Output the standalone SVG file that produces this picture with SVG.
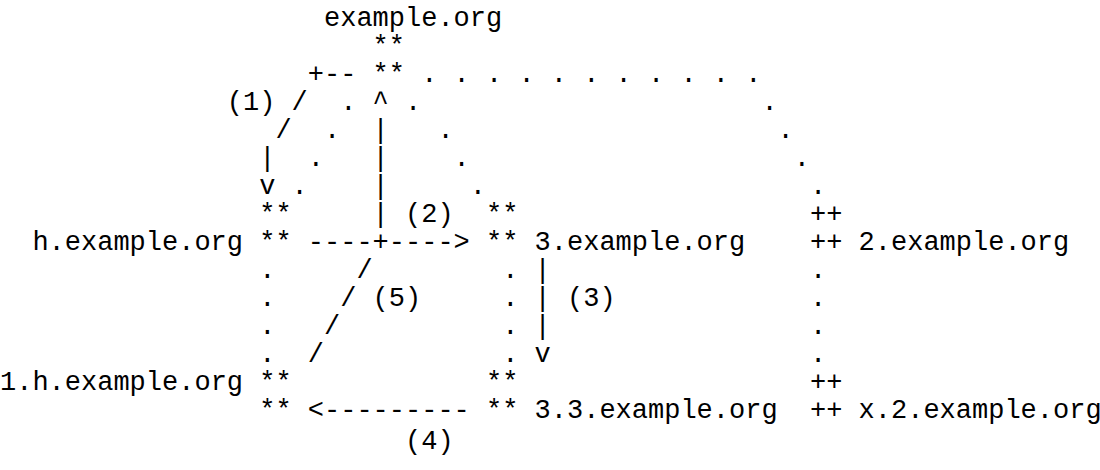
<svg xmlns="http://www.w3.org/2000/svg" width="1100" height="470" viewBox="0 0 1100 470">
<style>
text{font-family:"Liberation Mono","Courier New",monospace;font-size:27px;fill:#000;white-space:pre}
</style>
<rect width="1100" height="470" fill="#fff"/>
<g id="connectors">
  <g id="c1">
    <text x="307.8" y="82">+--</text>
    <text x="226.8" y="110">(1)</text>
    <text x="291.6" y="110">/</text>
    <text x="275.4" y="138">/</text>
    <text x="259.2" y="166">|</text>
    <text x="259.2" y="194">v</text>
  </g>
  <g id="c2">
    <text x="372.6" y="110">^</text>
    <text x="372.6" y="138">|</text>
    <text x="372.6" y="166">|</text>
    <text x="372.6" y="194">|</text>
    <text x="372.6" y="222">|</text>
    <text x="405" y="222">(2)</text>
    <text x="307.8" y="250" xml:space="preserve">----+----&gt;</text>
  </g>
  <g id="dots-example-h">
    <text x="340.2" y="110">.</text>
    <text x="324" y="138">.</text>
    <text x="307.8" y="166">.</text>
    <text x="291.6" y="194">.</text>
  </g>
  <g id="dots-example-3">
    <text x="405" y="110">.</text>
    <text x="437.4" y="138">.</text>
    <text x="453.6" y="166">.</text>
    <text x="469.8" y="194">.</text>
  </g>
  <g id="dots-example-2">
    <text x="421.2" y="82" xml:space="preserve">. . . . . . . . . . .</text>
    <text x="761.4" y="110">.</text>
    <text x="777.6" y="138">.</text>
    <text x="793.8" y="166">.</text>
    <text x="810" y="194">.</text>
  </g>
  <g id="dots-h-1h">
    <text x="259.2" y="278">.</text>
    <text x="259.2" y="306">.</text>
    <text x="259.2" y="334">.</text>
    <text x="259.2" y="362">.</text>
  </g>
  <g id="dots-3-33">
    <text x="502.2" y="278">.</text>
    <text x="502.2" y="306">.</text>
    <text x="502.2" y="334">.</text>
    <text x="502.2" y="362">.</text>
  </g>
  <g id="dots-2-x2">
    <text x="810" y="278">.</text>
    <text x="810" y="306">.</text>
    <text x="810" y="334">.</text>
    <text x="810" y="362">.</text>
  </g>
  <g id="c3">
    <text x="534.6" y="278">|</text>
    <text x="534.6" y="306">|</text>
    <text x="534.6" y="334">|</text>
    <text x="534.6" y="362">v</text>
    <text x="567" y="306">(3)</text>
  </g>
  <g id="c5">
    <text x="356.4" y="278">/</text>
    <text x="340.2" y="306">/</text>
    <text x="324" y="334">/</text>
    <text x="307.8" y="362">/</text>
    <text x="372.6" y="306">(5)</text>
  </g>
  <g id="c4">
    <text x="307.8" y="418" xml:space="preserve">&lt;---------</text>
    <text x="405" y="449">(4)</text>
  </g>
</g>
<g id="n-example">
  <text x="324" y="26">example.org</text>
  <text x="372.6" y="54">**</text>
  <text x="372.6" y="82">**</text>
</g>
<g id="n-h">
  <text x="259.2" y="222">**</text>
  <text x="259.2" y="250">**</text>
  <text x="32.4" y="250">h.example.org</text>
</g>
<g id="n-3">
  <text x="486" y="222">**</text>
  <text x="486" y="250">**</text>
  <text x="534.6" y="250">3.example.org</text>
</g>
<g id="n-2">
  <text x="810" y="222">++</text>
  <text x="810" y="250">++</text>
  <text x="858.6" y="250">2.example.org</text>
</g>
<g id="n-1h">
  <text x="0" y="390">1.h.example.org</text>
  <text x="259.2" y="390">**</text>
  <text x="259.2" y="418">**</text>
</g>
<g id="n-33">
  <text x="486" y="390">**</text>
  <text x="486" y="418">**</text>
  <text x="534.6" y="418">3.3.example.org</text>
</g>
<g id="n-x2">
  <text x="810" y="390">++</text>
  <text x="810" y="418">++</text>
  <text x="858.6" y="418">x.2.example.org</text>
</g>
</svg>
